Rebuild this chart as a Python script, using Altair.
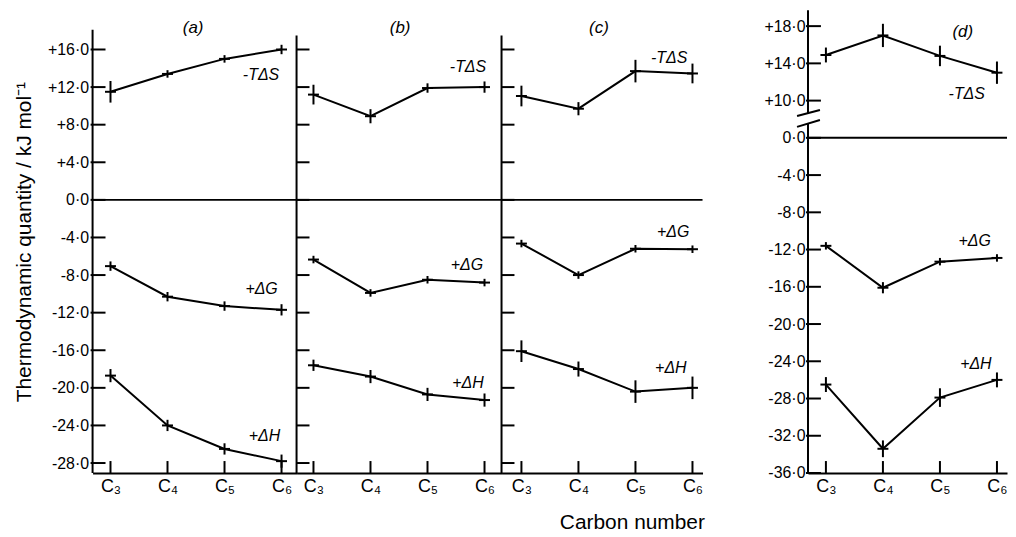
import altair as alt
import pandas as pd

FONT = "Liberation Sans"

carbons = [3, 4, 5, 6]
carbon_labels = ["C₃", "C₄", "C₅", "C₆"]
series_names = ["-TΔS", "+ΔG", "+ΔH"]
panel_titles = ["(a)", "(b)", "(c)", "(d)"]
y_title = "Thermodynamic quantity / kJ mol⁻¹"
x_title = "Carbon number"

# panel (a)
a_TdS = [11.5, 13.4, 15.0, 16.0]
a_dG = [-7.05, -10.3, -11.3, -11.7]
a_dH = [-18.7, -24.0, -26.5, -27.8]
a_TdS_err = [1.15, 0.4, 0.4, 0.5]
a_dG_err = [0.5, 0.5, 0.5, 0.6]
a_dH_err = [0.7, 0.6, 0.6, 0.7]
# panel (b)
b_TdS = [11.2, 8.9, 11.9, 12.0]
b_dG = [-6.35, -9.9, -8.5, -8.8]
b_dH = [-17.6, -18.8, -20.7, -21.3]
b_TdS_err = [1.05, 0.75, 0.5, 0.6]
b_dG_err = [0.4, 0.4, 0.4, 0.4]
b_dH_err = [0.6, 0.7, 0.7, 0.7]
# panel (c)
c_TdS = [11.05, 9.7, 13.7, 13.45]
c_dG = [-4.65, -8.0, -5.2, -5.25]
c_dH = [-16.1, -18.0, -20.4, -20.0]
c_TdS_err = [1.1, 0.7, 1.2, 1.05]
c_dG_err = [0.4, 0.4, 0.4, 0.4]
c_dH_err = [1.15, 0.8, 1.2, 1.2]
# panel (d)
d_TdS = [14.9, 17.0, 14.8, 13.0]
d_dG = [-11.6, -16.1, -13.3, -12.9]
d_dH = [-26.5, -33.4, -27.9, -26.0]
d_TdS_err = [0.8, 1.25, 1.1, 1.2]
d_dG_err = [0.4, 0.6, 0.4, 0.4]
d_dH_err = [0.8, 0.9, 1.0, 0.8]

# series label anchors (carbon number, value)
a_lab_x = [5.64, 5.65, 5.70]
a_lab_y = [13.3, -9.45, -25.1]
b_lab_x = [5.71, 5.69, 5.71]
b_lab_y = [14.15, -6.9, -19.5]
c_lab_x = [5.59, 5.66, 5.62]
c_lab_y = [15.1, -3.4, -17.9]
d_lab_x = [5.47, 5.61, 5.63]
d_lab_y = [10.7, -11.1, -24.3]
title_x = [4.45, 4.52, 4.36, 5.40]
title_y = [18.3, 18.3, 18.3, 17.4]

# y ticks
abc_ticks = [-28, -24, -20, -16, -12, -8, -4, 0, 4, 8, 12, 16]
d_ticks = [18, 14, 10, 0, -4, -8, -12, -16, -20, -24, -28, -32, -36]
D_BREAK_SHIFT = 6  # panel (d) broken axis: upper part shifted down by 6

H = 465
UNIT = 57.3


def d_shift(v):
    return v - D_BREAK_SHIFT if v > 5 else v


def ident(v):
    return v


x_expr = "[" + ",".join("'%s'" % s for s in carbon_labels) + "][datum.value - 3]"
abc_expr = ("(datum.value < 0 ? '-' : datum.value > 0 ? '+' : '') + "
            "replace(format(abs(datum.value), '.1f'), '.', '·')")
d_expr = ("(datum.value < 0 ? '-' : datum.value > 0 ? '+' : '') + "
          "replace(format(abs(datum.value) + (datum.value > 2 ? %d : 0), '.1f'), '.', '·')" % D_BREAK_SHIFT)


def panel(idx, vals, errs, lab_x, lab_y, width, c3_off, ydom, axis_segs,
          yaxis, tick_vals, tick_out, f=ident, xtitle=False, slashes=None):
    xdom = [3 - c3_off / UNIT, 3 + (width - c3_off) / UNIT]
    xs = alt.Scale(domain=xdom, nice=False, zero=False)
    ys = alt.Scale(domain=ydom, nice=False, zero=False)
    rows = []
    for name, vs, es in zip(series_names, vals, errs):
        for c, v, e in zip(carbons, vs, es):
            fv = f(v)
            rows.append(dict(carbon=c, series=name, value=fv, lo=fv - e, hi=fv + e))
    df = pd.DataFrame(rows)

    xkw = dict(values=carbons, labelExpr=x_expr, labelFont=FONT, labelFontSize=18,
               labelColor="black", labelPadding=5, ticks=False, domain=True,
               domainColor="black", domainWidth=2, grid=False, labelFlush=False)
    if xtitle:
        xkw.update(title=x_title, titleFont=FONT, titleFontSize=21, titleFontWeight="normal",
                   titleColor="black", titleX=131, titleY=50, titleBaseline="middle",
                   titleAlign="center")
    else:
        xkw.update(title=None)
    xaxis = alt.Axis(**xkw)

    def X(field):
        return alt.X(field, scale=xs, axis=xaxis)

    def Y(field):
        return alt.Y(field, scale=ys, axis=yaxis)

    lines = alt.Chart(df).mark_line(color="black", strokeWidth=2).encode(
        x=X("carbon:Q"), y=Y("value:Q"), detail="series:N",
    )
    bars = alt.Chart(df).mark_rule(color="black", strokeWidth=2).encode(
        x=X("carbon:Q"), y=Y("lo:Q"), y2="hi:Q",
    )
    arms = alt.Chart(df).mark_point(shape="M-1,0L1,0", size=121, filled=False,
                                    color="black", strokeWidth=2, opacity=1).encode(
        x=X("carbon:Q"), y=Y("value:Q"),
    )
    axdf = pd.DataFrame({"y0": [s[0] for s in axis_segs], "y1": [s[1] for s in axis_segs]})
    axis_line = alt.Chart(axdf).mark_rule(color="black", strokeWidth=2).encode(
        x=alt.value(0), y=Y("y0:Q"), y2="y1:Q",
    )
    tdf = pd.DataFrame({"t": [f(t) for t in tick_vals]})
    yticks = alt.Chart(tdf).mark_rule(color="black", strokeWidth=2).encode(
        x=alt.value(-tick_out), x2=alt.value(13), y=Y("t:Q"),
    )
    xticks = alt.Chart(pd.DataFrame({"c": carbons})).mark_rule(color="black", strokeWidth=2).encode(
        x=X("c:Q"), y=alt.value(H - 12), y2=alt.value(H),
    )
    zero = alt.Chart(pd.DataFrame({"z": [0]})).mark_rule(color="black", strokeWidth=2).encode(
        y=Y("z:Q"),
    )
    ldf = pd.DataFrame({"x": lab_x, "y": [f(v) for v in lab_y], "t": series_names})
    labels = alt.Chart(ldf).mark_text(font=FONT, fontSize=16, fontStyle="italic",
                                      color="black").encode(
        x=X("x:Q"), y=Y("y:Q"), text="t:N",
    )
    tdf2 = pd.DataFrame({"x": [title_x[idx]], "y": [f(title_y[idx])], "t": [panel_titles[idx]]})
    ptitle = alt.Chart(tdf2).mark_text(font=FONT, fontSize=17, fontStyle="italic",
                                       color="black").encode(
        x=X("x:Q"), y=Y("y:Q"), text="t:N",
    )
    layers = [lines, axis_line, yticks, xticks, zero, bars, arms, labels, ptitle]
    if slashes is not None:
        sdf = pd.DataFrame(slashes, columns=["x0", "x1", "y0", "y1"])
        sl = alt.Chart(sdf).mark_rule(color="black", strokeWidth=2).encode(
            x=X("x0:Q"), x2="x1:Q", y=Y("y0:Q"), y2="y1:Q",
        )
        layers.append(sl)
    return alt.layer(*layers).properties(width=width, height=H)


abc_dom = [-29.06, 20.17]
d_dom = [-36.0, 13.7]

ya = alt.Axis(values=abc_ticks, labelExpr=abc_expr, labelFont=FONT, labelFontSize=16,
              labelColor="black", labelPadding=4, ticks=False, domain=False, grid=False,
              title=y_title, titleFont=FONT, titleFontSize=21, titleFontWeight="normal",
              titleColor="black", titlePadding=13, labelFlush=False)
yd = alt.Axis(values=[d_shift(t) for t in d_ticks], labelExpr=d_expr, labelFont=FONT,
              labelFontSize=16, labelColor="black", labelPadding=3, ticks=False,
              domain=False, grid=False, title=None, labelFlush=False)

pa = panel(0, [a_TdS, a_dG, a_dH], [a_TdS_err, a_dG_err, a_dH_err], a_lab_x, a_lab_y,
           205, 18, abc_dom, [(-29.06, 18.1)], ya, abc_ticks, 2)
pb = panel(1, [b_TdS, b_dG, b_dH], [b_TdS_err, b_dG_err, b_dH_err], b_lab_x, b_lab_y,
           206, 17, abc_dom, [(-29.06, 17.5)], None, abc_ticks, 0)
pc = panel(2, [c_TdS, c_dG, c_dH], [c_TdS_err, c_dG_err, c_dH_err], c_lab_x, c_lab_y,
           202, 20, abc_dom, [(-29.06, 17.5)], None, abc_ticks, 0, xtitle=True)
pd_ = panel(3, [d_TdS, d_dG, d_dH], [d_TdS_err, d_dG_err, d_dH_err], d_lab_x, d_lab_y,
            200, 18, d_dom, [(-36.0, 1.6), (2.56, 13.7)], yd, d_ticks, 2, f=d_shift,
            slashes=[(2.494, 2.895, 2.35, 2.99), (2.494, 2.895, 1.18, 1.92)])

spacer = alt.Chart(pd.DataFrame({"s": [0]})).mark_text(text="").properties(width=106, height=H)

chart = alt.hconcat(pa, pb, pc, spacer, pd_, spacing=0, bounds="flush").properties(
    padding={"left": 5, "top": 0, "right": 0, "bottom": 0},
    background="white",
).configure_view(stroke=None)

chart.save("out.html", embed_options={"renderer": "svg", "actions": False})
